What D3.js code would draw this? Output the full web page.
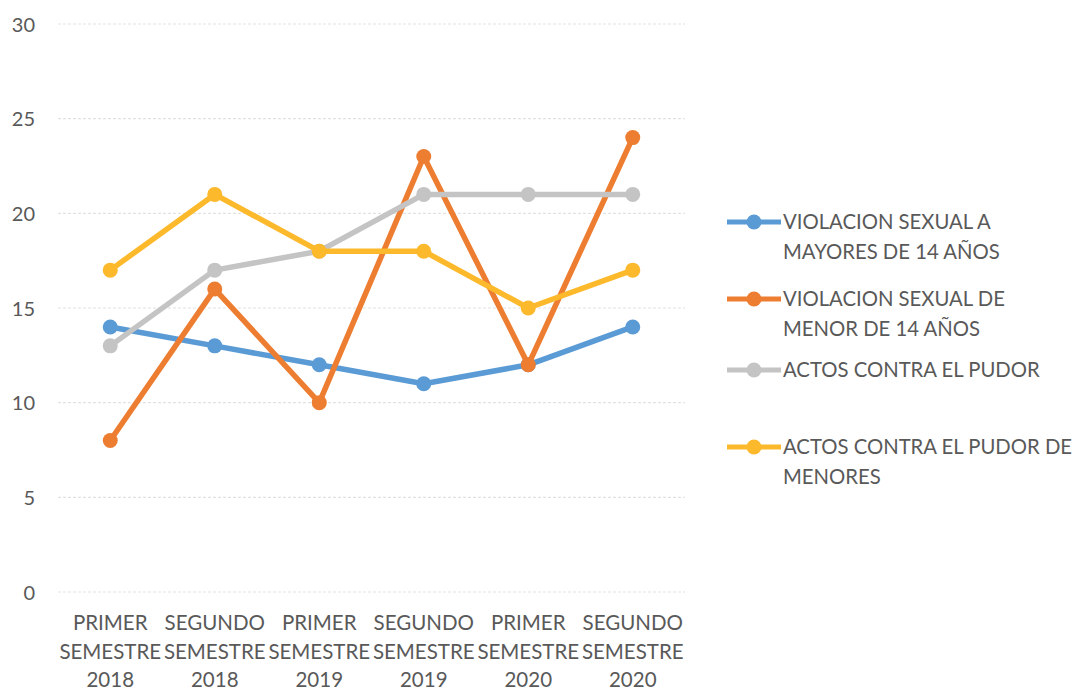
<!DOCTYPE html>
<html>
<head>
<meta charset="utf-8">
<script src="https://cdn.jsdelivr.net/npm/d3@7"></script>
<style>
  html, body { margin: 0; padding: 0; background: #fff; }
  body { width: 1078px; height: 692px; overflow: hidden; }
  text { font-family: Lato, "Open Sans", sans-serif; fill: #595959; }
</style>
</head>
<body>
<svg id="viz"></svg>
<script>
var categories = [
    ["PRIMER", "SEMESTRE", "2018"],
    ["SEGUNDO", "SEMESTRE", "2018"],
    ["PRIMER", "SEMESTRE", "2019"],
    ["SEGUNDO", "SEMESTRE", "2019"],
    ["PRIMER", "SEMESTRE", "2020"],
    ["SEGUNDO", "SEMESTRE", "2020"]
];
var seriesNames = [
    ["VIOLACION SEXUAL A", "MAYORES DE 14 AÑOS"],
    ["VIOLACION SEXUAL DE", "MENOR DE 14 AÑOS"],
    ["ACTOS CONTRA EL PUDOR"],
    ["ACTOS CONTRA EL PUDOR DE", "MENORES"]
];
var mayores = [14, 13, 12, 11, 12, 14];
var menores = [8, 16, 10, 23, 12, 24];
var pudor = [13, 17, 18, 21, 21, 21];
var pudorMenores = [17, 21, 18, 18, 15, 17];
var yTicks = [0, 5, 10, 15, 20, 25, 30];
var colors = ["#5B9BD5", "#ED7D31", "#C4C4C4", "#FDB92C"];

var width = 1078, height = 692;
var svg = d3.select("#viz").attr("width", width).attr("height", height);

var x = d3.scaleBand().domain(d3.range(categories.length)).range([58, 685]);
var y = d3.scaleLinear().domain([0, 30]).range([592, 24]);

// gridlines
svg.append("g").selectAll("line")
    .data(yTicks).enter()
    .append("line")
    .attr("x1", 58).attr("x2", 685)
    .attr("y1", d => y(d)).attr("y2", d => y(d))
    .attr("stroke", "#e2e2e2")
    .attr("stroke-width", 1.2)
    .attr("stroke-dasharray", "3,2");

// y axis labels
var yAxis = d3.axisLeft(y).tickValues(yTicks).tickSize(0).tickPadding(0);
var gy = svg.append("g").attr("transform", "translate(35,0)").call(yAxis);
gy.select(".domain").remove();
gy.selectAll("text").attr("font-size", 20).attr("dy", "0.35em").style("font-family", null);

// x axis labels
var xl = svg.append("g").selectAll("text")
    .data(categories).enter()
    .append("text")
    .attr("text-anchor", "middle")
    .attr("font-size", 20.5);
xl.each(function(d, i) {
    var t = d3.select(this);
    d.forEach(function(s, j) {
        t.append("tspan")
            .attr("x", x(i) + x.bandwidth() / 2)
            .attr("y", 630 + j * 28.5)
            .text(s);
    });
});

var data = [mayores, menores, pudor, pudorMenores];
var line = d3.line()
    .x((d, i) => x(i) + x.bandwidth() / 2)
    .y(d => y(d));

data.forEach(function(vals, k) {
    var g = svg.append("g");
    g.append("path")
        .datum(vals)
        .attr("d", line)
        .attr("fill", "none")
        .attr("stroke", colors[k])
        .attr("stroke-width", 5.5)
        .attr("stroke-linejoin", "round");
    g.selectAll("circle")
        .data(vals).enter()
        .append("circle")
        .attr("cx", (d, i) => x(i) + x.bandwidth() / 2)
        .attr("cy", d => y(d))
        .attr("r", 7.5)
        .attr("fill", colors[k]);
});

// legend
var legendY = [222, 299, 370, 447];
var legend = svg.append("g").selectAll("g")
    .data(seriesNames).enter()
    .append("g")
    .attr("transform", (d, i) => "translate(727," + legendY[i] + ")");
legend.append("line")
    .attr("x1", 0).attr("x2", 54)
    .attr("stroke", (d, i) => colors[i])
    .attr("stroke-width", 5);
legend.append("circle")
    .attr("cx", 27).attr("r", 7.5)
    .attr("fill", (d, i) => colors[i]);
legend.append("text")
    .attr("font-size", 20.3)
    .each(function(d) {
        var t = d3.select(this);
        d.forEach(function(s, j) {
            t.append("tspan").attr("x", 56).attr("y", 7 + j * 30).text(s);
        });
    });
</script>
</body>
</html>
